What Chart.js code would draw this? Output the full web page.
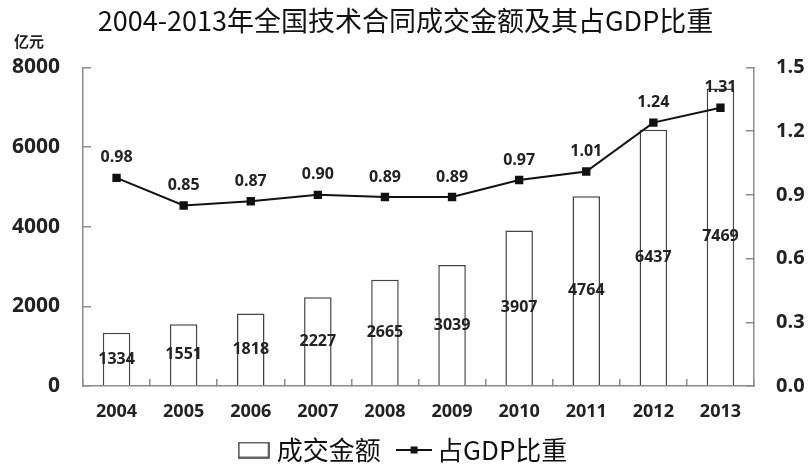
<!DOCTYPE html>
<html lang="zh">
<head>
  <meta charset="UTF-8">
  <title>2004-2013年全国技术合同成交金额及其占GDP比重</title>
  <script src="https://cdn.jsdelivr.net/npm/chart.js"></script>
  <style>
    html, body { margin: 0; padding: 0; background: #fff; }
    #wrap { width: 811px; height: 473px; }
  </style>
</head>
<body>
<div id="wrap"><canvas id="chart" width="811" height="473"></canvas></div>
<script>
  const years = ['2004', '2005', '2006', '2007', '2008', '2009', '2010', '2011', '2012', '2013'];
  const amounts = [1334, 1551, 1818, 2227, 2665, 3039, 3907, 4764, 6437, 7469];
  const gdpShare = [0.98, 0.85, 0.87, 0.90, 0.89, 0.89, 0.97, 1.01, 1.24, 1.31];
  const amountMax = 8000, amountStep = 2000;
  const shareMax = 1.5, shareStep = 0.3;

  const axisColor = '#8c8c8c';
  const numFont = '"Open Sans", "DejaVu Sans", sans-serif';
  const cjkFont = '"Noto Sans CJK SC", sans-serif';

  // small pictures used as legend markers
  const boxIcon = document.createElement('canvas');
  boxIcon.width = 32; boxIcon.height = 17;
  (function () {
    const c = boxIcon.getContext('2d');
    c.fillStyle = '#fff';
    c.fillRect(0, 0, 32, 17);
    c.strokeStyle = '#333';
    c.lineWidth = 1.5;
    c.strokeRect(1, 1, 30, 15);
  })();

  const lineIcon = document.createElement('canvas');
  lineIcon.width = 36; lineIcon.height = 12;
  (function () {
    const c = lineIcon.getContext('2d');
    c.strokeStyle = '#111';
    c.lineWidth = 2;
    c.beginPath(); c.moveTo(0, 6); c.lineTo(36, 6); c.stroke();
    c.fillStyle = '#111';
    c.fillRect(14.5, 2.5, 7, 7);
  })();

  const valueLabels = {
    id: 'valueLabels',
    afterDatasetsDraw(chart) {
      const ctx = chart.ctx;
      ctx.save();
      ctx.font = 'bold 16px ' + numFont;
      ctx.fillStyle = '#222';
      ctx.textAlign = 'center';
      ctx.textBaseline = 'middle';
      chart.getDatasetMeta(0).data.forEach((bar, i) => {
        ctx.fillText(amounts[i], bar.x, (bar.y + bar.base) / 2);
      });
      chart.getDatasetMeta(1).data.forEach((pt, i) => {
        ctx.fillText(gdpShare[i].toFixed(2), pt.x, pt.y - 20);
      });
      ctx.font = 'bold 15px ' + cjkFont;
      ctx.textAlign = 'left';
      ctx.fillText('亿元', 14, 41);
      ctx.restore();
    }
  };

  new Chart(document.getElementById('chart'), {
    data: {
      labels: years,
      datasets: [{
        type: 'bar',
        label: '成交金额',
        data: amounts,
        yAxisID: 'y',
        backgroundColor: '#fff',
        borderColor: '#444',
        borderWidth: 1.5,
        barPercentage: 0.41,
        categoryPercentage: 1,
        order: 2
      }, {
        type: 'line',
        label: '占GDP比重',
        data: gdpShare,
        yAxisID: 'y1',
        borderColor: '#111',
        backgroundColor: '#111',
        borderWidth: 2,
        pointStyle: 'rect',
        pointRadius: 4.5,
        tension: 0,
        order: 1
      }]
    },
    options: {
      responsive: false,
      animation: false,
      plugins: {
        tooltip: { enabled: false },
        title: {
          display: true,
          text: '2004-2013年全国技术合同成交金额及其占GDP比重',
          color: '#111',
          font: { family: cjkFont, size: 27, weight: 'normal' },
          padding: { top: 5, bottom: 30 }
        },
        legend: {
          position: 'bottom',
          labels: {
            usePointStyle: true,
            pointStyleWidth: 20,
            padding: 6,
            color: '#111',
            font: { family: cjkFont, size: 26 },
            generateLabels: () => [
              { text: '成交金额   ', pointStyle: boxIcon, fontColor: '#111', datasetIndex: 0 },
              { text: '占GDP比重', pointStyle: lineIcon, fontColor: '#111', datasetIndex: 1 }
            ]
          }
        }
      },
      scales: {
        x: {
          grid: { drawOnChartArea: false, color: axisColor, tickLength: -7, lineWidth: 1.5 },
          border: { color: axisColor, width: 1.5 },
          ticks: { color: '#222', padding: 22, font: { family: numFont, size: 18, weight: 'bold' } },
          afterFit: s => { s.height = 45; }
        },
        y: {
          position: 'left',
          min: 0, max: amountMax,
          grid: { drawOnChartArea: false, color: axisColor, tickLength: -8, lineWidth: 1.5 },
          border: { color: axisColor, width: 1.5 },
          ticks: {
            stepSize: amountStep, color: '#222', padding: 31,
            font: { family: numFont, size: 21, weight: 'bold' },
            callback: v => String(v)
          },
          afterFit: s => { s.width = 83; }
        },
        y1: {
          position: 'right',
          min: 0, max: shareMax,
          grid: { drawOnChartArea: false, color: axisColor, tickLength: -8, lineWidth: 1.5 },
          border: { color: axisColor, width: 1.5 },
          ticks: {
            stepSize: shareStep, color: '#222', padding: 30,
            font: { family: numFont, size: 20, weight: 'bold' },
            callback: v => v.toFixed(1)
          },
          afterFit: s => { s.width = 57; }
        }
      }
    },
    plugins: [valueLabels]
  });
</script>
</body>
</html>
